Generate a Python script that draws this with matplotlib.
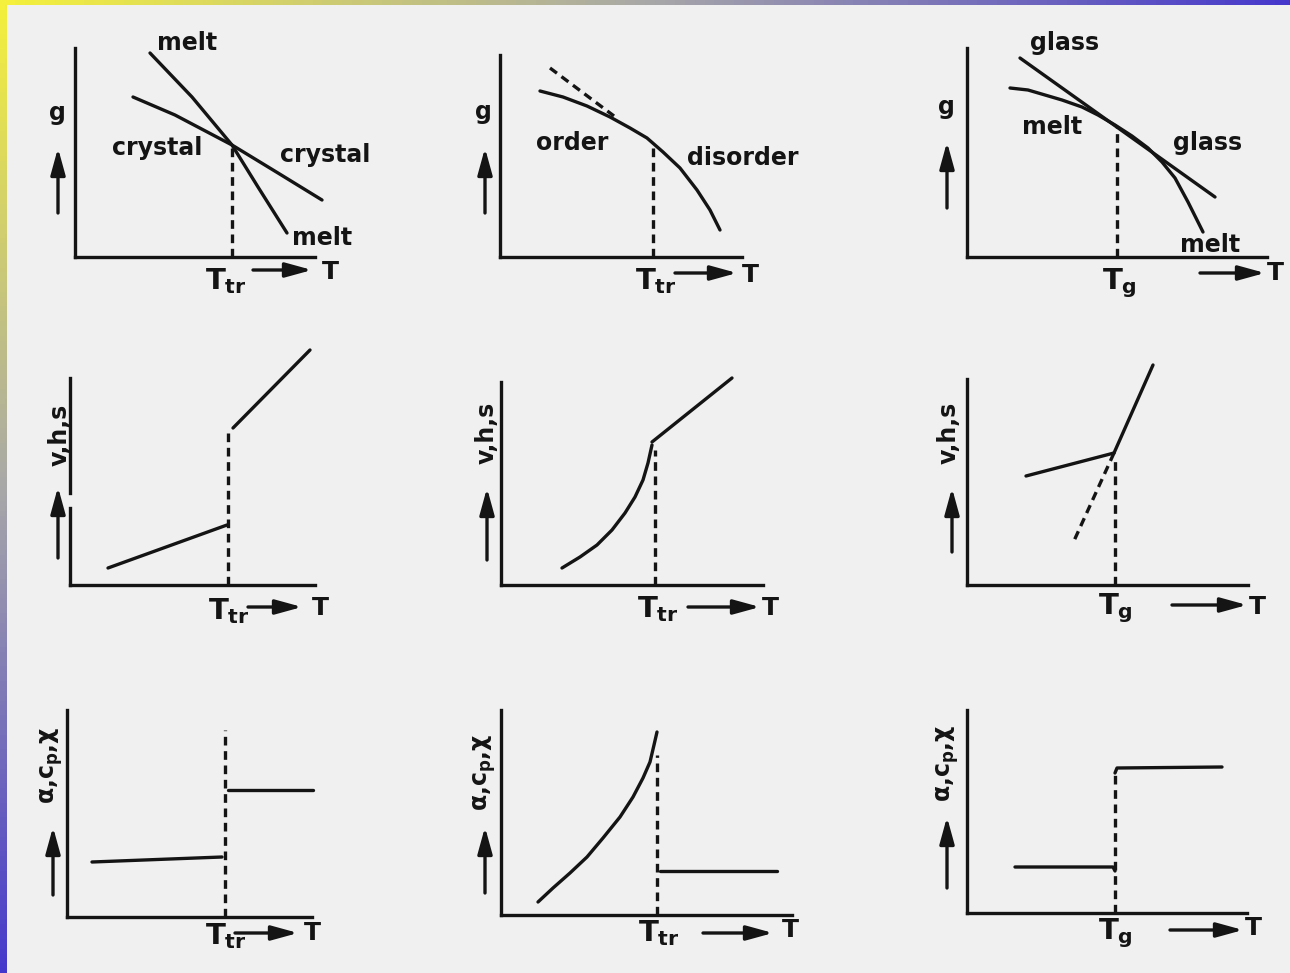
import numpy as np
import matplotlib.pyplot as plt
from matplotlib.colors import LinearSegmentedColormap
from matplotlib.patches import Rectangle

W, H = 1290, 973
INK = '#141414'
PAPER = '#f0f0f0'
LW = 2.4

plt.rcParams['font.family'] = ['DejaVu Sans']
plt.rcParams['font.weight'] = 'bold'
plt.rcParams['mathtext.fontset'] = 'custom'
plt.rcParams['mathtext.rm'] = 'DejaVu Sans:bold'
plt.rcParams['mathtext.it'] = 'DejaVu Sans:bold'
plt.rcParams['mathtext.bf'] = 'DejaVu Sans:bold'

# --- schematic curves (T along x, property along y, arbitrary units) ---

# first order transition: free enthalpy
g1_melt_T = [7.5, 11.7, 15.7, 18.3, 21.2]
g1_melt = [20.4, 16.0, 11.2, 7.0, 2.4]
g1_cryst_T = [5.8, 10.0, 15.7, 20.3, 24.7]
g1_cryst = [16.0, 14.2, 11.2, 8.4, 5.7]
T_tr1 = 15.7
g_tr1 = 11.2

# order-disorder transition: free enthalpy
g2_T = [4.0, 6.3, 8.7, 11.0, 13.0, 14.7, 16.3, 18.0, 19.7, 21.0, 22.0]
g2 = [16.6, 16.0, 15.1, 14.0, 12.9, 11.9, 10.5, 8.9, 6.7, 4.7, 2.7]
g2_ext_T = [5.0, 11.4]
g2_ext = [18.9, 14.1]
T_tr2 = 15.3
g_tr2 = 11.4

# glass transition: free enthalpy
g3_glass_T = [5.3, 24.8]
g3_glass = [19.9, 6.0]
g3_melt_T = [4.3, 6.1, 7.8, 9.5, 11.5, 13.1, 14.8, 16.5, 18.1, 19.5, 20.8, 22.1, 23.6]
g3_melt = [16.9, 16.7, 16.2, 15.7, 15.0, 14.2, 13.2, 12.1, 10.9, 9.5, 7.9, 5.5, 2.5]
T_g3 = 15.0
g_g3 = 13.0

# v, h, s
v4_low_T = [3.8, 15.7]
v4_low = [1.7, 6.0]
v4_high_T = [16.3, 24.0]
v4_high = [15.7, 23.5]
T_tr4 = 15.8
v_tr4 = 15.7

v5_low_T = [6.1, 7.9, 9.6, 11.1, 12.4, 13.4, 14.2, 14.7, 15.1]
v5_low = [1.7, 2.8, 4.0, 5.5, 7.2, 8.8, 10.5, 12.2, 14.0]
v5_high_T = [15.1, 23.1]
v5_high = [14.3, 20.7]
T_tr5 = 15.4
v_tr5 = 13.5

v6_glass_T = [5.9, 14.7]
v6_glass = [10.9, 13.2]
v6_melt_T = [14.7, 18.6]
v6_melt = [13.2, 22.0]
v6_ext_T = [14.7, 10.6]
v6_ext = [13.2, 4.2]
T_g6 = 14.8
v_g6 = 12.7

# alpha, cp, chi
a7_low_T = [2.5, 15.5]
a7_low = [5.5, 6.0]
a7_high_T = [16.1, 24.6]
a7_high = [12.7, 12.7]
T_tr7 = 15.8
a_top7 = 18.7

a8_low_T = [3.7, 5.2, 6.9, 8.6, 10.2, 11.9, 13.2, 14.2, 14.9, 15.3, 15.6]
a8_low = [1.3, 2.7, 4.2, 5.8, 7.7, 9.8, 11.8, 13.7, 15.3, 17.0, 18.3]
a8_high_T = [15.9, 27.6]
a8_high = [4.4, 4.4]
T_tr8 = 15.6
a_top8 = 16.0

a9_low_T = [4.8, 14.6, 14.8]
a9_low = [4.6, 4.6, 4.2]
a9_high_T = [14.8, 15.0, 25.5]
a9_high = [14.0, 14.5, 14.6]
T_g9 = 14.8
a_top9 = 14.3

fig = plt.figure(figsize=(W / 100, H / 100), dpi=100)

# slide background: diagonal yellow-to-blue gradient behind a grey sheet
bg = fig.add_axes([0, 0, 1, 1])
bg.set_axis_off()
xx, yy = np.meshgrid(np.linspace(0, 1, 260), np.linspace(0, 1, 200))
tt = (xx + yy) / 2
grad = LinearSegmentedColormap.from_list(
    'slide', [(0.0, '#f4f03c'), (0.25, '#a8a8a8'), (0.5, '#4638cc'), (1.0, '#2a20c0')])
bg.imshow(tt, cmap=grad, vmin=0, vmax=1, extent=[0, 1, 0, 1], origin='upper', aspect='auto')
bg.add_patch(Rectangle((7 / W, 0), 1 - 7 / W, 1 - 5 / H, transform=bg.transAxes,
                       facecolor=PAPER, edgecolor='none'))
bg.set_xlim(0, 1)
bg.set_ylim(0, 1)

# axes corner (px), axis lengths (px)
frames = [
    (75, 257, 240, 209), (500, 257, 242, 202), (967, 257, 300, 209),
    (70, 585, 245, 207), (501, 585, 262, 203), (967, 585, 281, 206),
    (67, 917, 245, 207), (501, 915, 291, 205), (967, 913, 280, 203),
]


def panel(i):
    x0, y0, w, h = frames[i]
    ax = fig.add_axes([x0 / W, (H - y0) / H, w / W, h / H])
    ax.set_xlim(0, w / 10)
    ax.set_ylim(0, h / 10)
    ax.patch.set_visible(False)
    for s in ['top', 'right']:
        ax.spines[s].set_visible(False)
    for s in ['left', 'bottom']:
        ax.spines[s].set_linewidth(LW)
        ax.spines[s].set_color(INK)
        ax.spines[s].set_capstyle('projecting')
    ax.set_xticks([])
    ax.set_yticks([])
    return ax


def line(ax, x, y, dashed=False):
    kw = dict(color=INK, lw=LW, clip_on=False, solid_capstyle='round',
              solid_joinstyle='round')
    if dashed:
        kw.update(dashes=(2.6, 1.7))
    ax.plot(x, y, **kw)


def arrow(ax, start, end):
    ax.annotate('', xy=end, xytext=start, annotation_clip=False,
                arrowprops=dict(arrowstyle='-|>,head_length=0.8,head_width=0.22',
                                lw=LW, color=INK, shrinkA=0, shrinkB=0,
                                mutation_scale=20))


def decorate(ax, ylabel, ylab_xy, rot, up, tname, tname_xy, right, t_xy):
    ax.text(*ylab_xy, ylabel, rotation=rot, ha='center', va='center',
            fontsize=17, color=INK, clip_on=False)
    ux, uy0, uy1 = up
    arrow(ax, (ux, uy0), (ux, uy1))
    ax.text(*tname_xy, tname, ha='left', va='top', fontsize=21, color=INK, clip_on=False)
    rx0, rx1, ry = right
    arrow(ax, (rx0, ry), (rx1, ry))
    ax.text(*t_xy, 'T', ha='center', va='center', fontsize=18, color=INK, clip_on=False)


TTR = r'$T_{tr}$'
TG = r'$T_{g}$'
ALPHA = r'α,c$_{p}$,χ'

# row 1
ax = panel(0)
line(ax, g1_melt_T, g1_melt)
line(ax, g1_cryst_T, g1_cryst)
line(ax, [T_tr1, T_tr1], [0, g_tr1], dashed=True)
for s, xy in [('melt', (11.2, 21.4)), ('crystal', (8.2, 10.9)),
              ('crystal', (25.0, 10.2)), ('melt', (24.7, 1.9))]:
    ax.text(*xy, s, ha='center', va='center', fontsize=17, color=INK, clip_on=False)
decorate(ax, 'g', (-1.8, 14.4), 0, (-1.7, 4.4, 10.9), TTR, (13.0, -0.9),
         (17.8, 23.7, -1.3), (25.5, -1.5))

ax = panel(1)
line(ax, g2_T, g2)
line(ax, g2_ext_T, g2_ext, dashed=True)
line(ax, [T_tr2, T_tr2], [0, g_tr2], dashed=True)
ax.text(7.2, 11.4, 'order', ha='center', va='center', fontsize=17, color=INK)
ax.text(24.3, 9.9, 'disorder', ha='center', va='center', fontsize=17, color=INK, clip_on=False)
decorate(ax, 'g', (-1.7, 14.5), 0, (-1.5, 4.4, 10.9), TTR, (13.5, -0.9),
         (17.5, 23.7, -1.6), (25.0, -1.8))

ax = panel(2)
line(ax, g3_glass_T, g3_glass)
line(ax, g3_melt_T, g3_melt)
line(ax, [T_g3, T_g3], [0, g_g3], dashed=True)
for s, xy in [('glass', (9.8, 21.4)), ('melt', (8.5, 13.0)),
              ('glass', (24.1, 11.4)), ('melt', (24.3, 1.2))]:
    ax.text(*xy, s, ha='center', va='center', fontsize=17, color=INK, clip_on=False)
decorate(ax, 'g', (-2.1, 15.0), 0, (-2.0, 4.9, 11.5), TG, (13.5, -0.9),
         (23.3, 29.8, -1.6), (30.8, -1.6))

# row 2
ax = panel(3)
ax.spines['left'].set_bounds(9.2, 20.7)
ax.plot([0, 0], [0, 7.7], color=INK, lw=LW, clip_on=False)
line(ax, v4_low_T, v4_low)
line(ax, v4_high_T, v4_high)
line(ax, [T_tr4, T_tr4], [0, v_tr4], dashed=True)
decorate(ax, 'v,h,s', (-1.0, 15.0), 90, (-1.2, 2.7, 9.8), TTR, (13.8, -1.1),
         (17.8, 23.2, -2.2), (25.0, -2.3))

ax = panel(4)
line(ax, v5_low_T, v5_low)
line(ax, v5_high_T, v5_high)
line(ax, [T_tr5, T_tr5], [0, v_tr5], dashed=True)
decorate(ax, 'v,h,s', (-1.4, 15.2), 90, (-1.4, 2.5, 9.7), TTR, (13.6, -0.9),
         (18.7, 25.9, -2.2), (26.9, -2.3))

ax = panel(5)
line(ax, v6_glass_T, v6_glass)
line(ax, v6_melt_T, v6_melt)
line(ax, v6_ext_T, v6_ext, dashed=True)
line(ax, [T_g6, T_g6], [0, v_g6], dashed=True)
decorate(ax, 'v,h,s', (-1.8, 15.2), 90, (-1.5, 3.3, 9.7), TG, (13.1, -0.6),
         (20.5, 28.0, -2.0), (29.0, -2.2))

# row 3
ax = panel(6)
line(ax, a7_low_T, a7_low)
line(ax, a7_high_T, a7_high)
line(ax, [T_tr7, T_tr7], [0, a_top7], dashed=True)
decorate(ax, ALPHA, (-1.5, 15.2), 90, (-1.4, 2.2, 9.0), TTR, (13.8, -0.4),
         (16.8, 23.1, -1.6), (24.5, -1.6))

ax = panel(7)
line(ax, a8_low_T, a8_low)
line(ax, a8_high_T, a8_high)
line(ax, [T_tr8, T_tr8], [0, a_top8], dashed=True)
decorate(ax, ALPHA, (-1.6, 14.3), 90, (-1.6, 2.2, 8.8), TTR, (13.7, -0.3),
         (20.2, 27.2, -1.8), (28.9, -1.5))

ax = panel(8)
line(ax, a9_low_T, a9_low)
line(ax, a9_high_T, a9_high)
line(ax, [T_g9, T_g9], [0, a_top9], dashed=True)
decorate(ax, ALPHA, (-1.9, 15.0), 90, (-2.0, 2.5, 9.6), TG, (13.1, -0.3),
         (20.3, 27.6, -1.7), (28.6, -1.5))

fig.savefig('out.png', dpi=100)
